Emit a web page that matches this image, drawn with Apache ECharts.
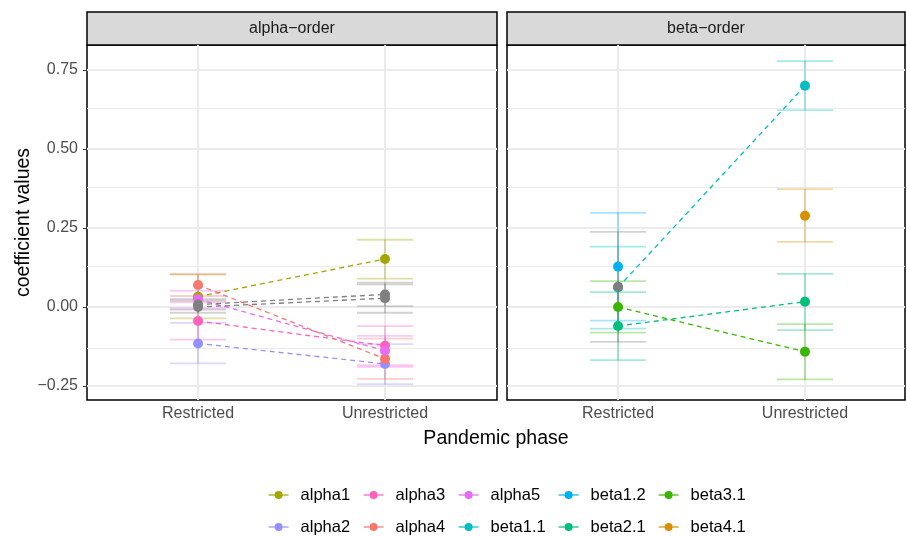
<!DOCTYPE html>
<html>
<head>
<meta charset="utf-8">
<script src="https://cdn.jsdelivr.net/npm/echarts@6/dist/echarts.min.js"></script>
<style>
  html, body { margin: 0; padding: 0; background: #fff; }
  #chart { width: 907px; height: 536px; }
</style>
</head>
<body>
<div id="chart"></div>
<script>
// categories / facets
const phases = ["Restricted", "Unrestricted"];
const panels = ["alpha\u2212order", "beta\u2212order"];
const yTicks = [-0.25, 0, 0.25, 0.5, 0.75];
const yMinorTicks = [-0.125, 0.125, 0.375, 0.625];

// groups (the na* ones are the grey, unlabelled rows)
const groups = ["alpha1", "alpha2", "alpha3", "alpha4", "alpha5",
  "beta1.1", "beta1.2", "beta2.1", "beta3.1", "beta4.1", "na1", "na2", "na3"];
const groupPanel = [0, 0, 0, 0, 0, 1, 1, 1, 1, 1, 0, 0, 1];
const groupColors = ["#A3A500", "#9590FF", "#FF62BC", "#F8766D", "#E76BF3",
  "#00BFC4", "#00B0F6", "#00BF7D", "#39B600", "#D89000", "#7F7F7F", "#7F7F7F", "#7F7F7F"];

// coefficient + interval, restricted phase
const restrictedEst  = [0.033, -0.115, -0.044, 0.070, 0.025, 0.062, 0.128, -0.060, 0.000, null, 0.008, 0.000, 0.064];
const restrictedLow  = [-0.036, -0.178, -0.103, 0.035, -0.004, -0.068, -0.043, -0.168, -0.081, null, -0.008, -0.018, -0.110];
const restrictedHigh = [0.103, -0.050, 0.015, 0.104, 0.051, 0.191, 0.298, 0.047, 0.082, null, 0.025, 0.020, 0.238];
// coefficient + interval, unrestricted phase
const unrestrictedEst  = [0.152, -0.180, -0.122, -0.164, -0.138, 0.700, null, 0.017, -0.141, 0.289, 0.040, 0.028, null];
const unrestrictedLow  = [0.090, -0.244, -0.184, -0.227, -0.189, 0.623, null, -0.073, -0.229, 0.206, 0.003, -0.018, null];
const unrestrictedHigh = [0.213, -0.117, -0.060, -0.100, -0.091, 0.778, null, 0.105, -0.054, 0.373, 0.077, 0.072, null];

const legendColumns = [["alpha1", "alpha2"], ["alpha3", "alpha4"], ["alpha5", "beta1.1"],
  ["beta1.2", "beta2.1"], ["beta3.1", "beta4.1"]];

const chart = echarts.init(document.getElementById("chart"));

const gridBoxes = [
  { left: 87, top: 45, width: 410, height: 355 },
  { left: 507, top: 45, width: 398, height: 355 }
];
const xMax = [2.599, 2.535];
const font = "Liberation Sans, Arial, sans-serif";

function fmtY(v) {
  return v.toFixed(2).replace("-", "\u2212");
}

function errorBar(color) {
  return function (params, api) {
    const top = api.coord([api.value(0), api.value(2)]);
    const bot = api.coord([api.value(0), api.value(1)]);
    const hw = api.size([0.15, 0])[0];
    const st = { stroke: color, lineWidth: 1.8, opacity: 0.35 };
    return {
      type: "group",
      children: [
        { type: "line", shape: { x1: top[0], y1: top[1], x2: bot[0], y2: bot[1] }, style: st },
        { type: "line", shape: { x1: top[0] - hw, y1: top[1], x2: top[0] + hw, y2: top[1] }, style: st },
        { type: "line", shape: { x1: bot[0] - hw, y1: bot[1], x2: bot[0] + hw, y2: bot[1] }, style: st }
      ]
    };
  };
}

const series = [];

// background grid lines, one helper series per panel
[0, 1].forEach(p => {
  series.push({
    type: "line",
    xAxisIndex: p,
    yAxisIndex: p,
    data: [[1, 0]],
    symbol: "none",
    lineStyle: { opacity: 0 },
    silent: true,
    z: 1,
    markLine: {
      silent: true,
      z: 1,
      symbol: ["none", "none"],
      label: { show: false },
      animation: false,
      lineStyle: { color: "#ebebeb", type: "solid", width: 2 },
      data: yTicks.map(v => ({ yAxis: v }))
        .concat(yMinorTicks.map(v => ({ yAxis: v, lineStyle: { width: 1, color: "#ebebeb", type: "solid" } })))
        .concat([1, 2].map(v => ({ xAxis: v })))
    }
  });
});

groups.forEach((g, i) => {
  const p = groupPanel[i];
  const pts = [];
  const bars = [];
  if (restrictedEst[i] != null) {
    pts.push([1, restrictedEst[i]]);
    bars.push([1, restrictedLow[i], restrictedHigh[i]]);
  }
  if (unrestrictedEst[i] != null) {
    pts.push([2, unrestrictedEst[i]]);
    bars.push([2, unrestrictedLow[i], unrestrictedHigh[i]]);
  }
  series.push({
    name: g,
    type: "line",
    xAxisIndex: p,
    yAxisIndex: p,
    data: pts,
    color: groupColors[i],
    symbol: "circle",
    symbolSize: 10,
    showSymbol: true,
    lineStyle: { type: [5, 4], width: 1.3 },
    itemStyle: { borderWidth: 0 },
    emphasis: { disabled: true },
    z: 4
  });
  series.push({
    name: g + " ci",
    type: "custom",
    xAxisIndex: p,
    yAxisIndex: p,
    data: bars,
    renderItem: errorBar(groupColors[i]),
    silent: true,
    z: 3
  });
});

const textStart = [300, 395, 490, 590, 690];

const option = {
  animation: false,
  backgroundColor: "#fff",
  grid: gridBoxes.map(b => Object.assign({
    show: true,
    borderColor: "#000",
    borderWidth: 1.5,
    backgroundColor: "#fff",
    containLabel: false
  }, b)),
  xAxis: [0, 1].map(p => ({
    type: "value",
    gridIndex: p,
    min: 0.406,
    max: xMax[p],
    axisLine: { show: false },
    splitLine: { show: false },
    axisTick: { show: true, customValues: [1, 2], length: 4, lineStyle: { color: "#333", width: 1 } },
    axisLabel: {
      customValues: [1, 2],
      formatter: v => phases[Math.round(v) - 1],
      color: "#4d4d4d",
      fontSize: 16,
      fontFamily: font,
      margin: 6
    }
  })),
  yAxis: [0, 1].map(p => ({
    type: "value",
    gridIndex: p,
    min: -0.294,
    max: 0.829,
    axisLine: { show: false },
    splitLine: { show: false },
    axisTick: { show: p === 0, customValues: yTicks, length: 4, lineStyle: { color: "#333", width: 1 } },
    axisLabel: {
      show: p === 0,
      customValues: yTicks,
      formatter: fmtY,
      color: "#4d4d4d",
      fontSize: 16,
      fontFamily: font,
      margin: 9
    },
    name: p === 0 ? "coefficient values" : "",
    nameLocation: "middle",
    nameRotate: 90,
    nameGap: 49,
    nameTextStyle: { color: "#000", fontSize: 19.5, fontFamily: font }
  })),
  legend: legendColumns.map((col, k) => ({
    data: col,
    orient: "vertical",
    left: textStart[k] - 32,
    top: 486,
    padding: 0,
    itemGap: 14,
    itemWidth: 20,
    itemHeight: 10,
    selectedMode: false,
    lineStyle: { type: "solid", width: 1.2 },
    textStyle: {
      color: "#000",
      fontSize: 16.5,
      lineHeight: 18,
      padding: [0, 0, 0, 7],
      fontFamily: font
    }
  })),
  graphic: gridBoxes.map((b, p) => ({
    type: "group",
    children: [
      {
        type: "rect",
        shape: { x: b.left, y: 12, width: b.width, height: 33 },
        style: { fill: "#d9d9d9", stroke: "#000", lineWidth: 1.5 }
      },
      {
        type: "text",
        x: b.left + b.width / 2,
        y: 28.5,
        style: {
          text: panels[p],
          fill: "#1a1a1a",
          fontSize: 16,
          fontFamily: font,
          align: "center",
          verticalAlign: "middle"
        }
      }
    ]
  })).concat([{
    type: "text",
    x: 496,
    y: 439,
    style: {
      text: "Pandemic phase",
      fill: "#000",
      fontSize: 19.5,
      fontFamily: font,
      align: "center",
      verticalAlign: "middle"
    }
  }]),
  series: series
};

chart.setOption(option);
window.addEventListener("resize", () => chart.resize());
</script>
</body>
</html>
